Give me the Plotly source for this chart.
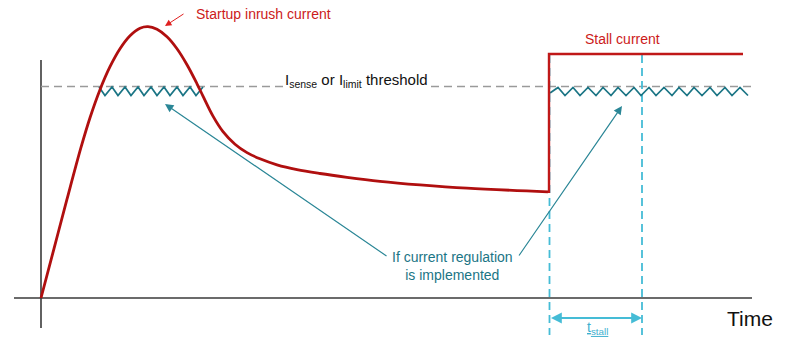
import plotly.graph_objects as go

# ---- data (time units, current units) ----
inrush_t = [0, 13, 26, 40, 49, 59, 69, 79, 89, 99, 107, 116, 126, 136, 146, 156, 162, 172,
            182, 194, 206, 219, 236, 256, 279, 306, 339, 379, 426, 507]
inrush_i = [0, 49.4, 98.8, 150.6, 180.3, 208.3, 231.3, 249.3, 262.3, 269.8, 271.4, 268.7, 261.2,
            249.2, 233.2, 214.2, 201.9, 181.9, 166.4, 153.8, 145.4, 139.2, 133.2, 128.4, 124.5,
            120.7, 116.7, 113.1, 109.8, 106.2]

stall_t = [507, 508, 508, 702]
stall_i = [106.2, 106.2, 244, 244]

threshold_t = [0, 711]
threshold_i = [211.5, 211.5]

ripple1_t = [58, 64, 71, 77, 84, 90, 97, 103, 110, 116, 123, 129, 136, 142, 149, 155, 162]
ripple1_i = [211, 202.5, 211, 202.5, 211, 202.5, 211, 202.5, 211, 202.5, 211, 202.5, 211, 202.5, 211, 202.5, 211]

ripple2_t = [509, 517, 524, 532, 539, 547, 555, 562, 570, 577, 585, 593, 600, 608,
             615, 623, 631, 638, 646, 653, 661, 669, 676, 684, 691, 699, 707]
ripple2_i = [205, 210.5, 202.5, 210.5, 202.5, 210.5, 202.5, 210.5, 202.5, 210.5, 202.5, 210.5, 202.5, 210.5,
             202.5, 210.5, 202.5, 210.5, 202.5, 210.5, 202.5, 210.5, 202.5, 210.5, 202.5, 210.5, 202.5]

tstall_start = 508.5
tstall_end = 601

FONT = "Liberation Sans, Arial, sans-serif"
RED = "#b00f0f"
TEAL = "#1b7585"
CYAN = "#45bcd6"

fig = go.Figure()

# axes
fig.add_trace(go.Scatter(x=[0, 0], y=[-30, 238], mode="lines",
                         line=dict(color="#3a3a3a", width=1.6), hoverinfo="skip"))
fig.add_trace(go.Scatter(x=[-27, 711], y=[0, 0], mode="lines",
                         line=dict(color="#3a3a3a", width=1.6), hoverinfo="skip"))

# threshold
fig.add_trace(go.Scatter(x=threshold_t, y=threshold_i, mode="lines",
                         line=dict(color="#9a9a9a", width=1.6, dash="8px,5px"), hoverinfo="skip"))

# t_stall dashed verticals
for xv in (tstall_start, tstall_end):
    fig.add_trace(go.Scatter(x=[xv, xv], y=[243, -37], mode="lines",
                             line=dict(color=CYAN, width=1.8, dash="8px,5px"), hoverinfo="skip"))

# ripples
fig.add_trace(go.Scatter(x=ripple1_t, y=ripple1_i, mode="lines",
                         line=dict(color=TEAL, width=1.7), hoverinfo="skip"))
fig.add_trace(go.Scatter(x=ripple2_t, y=ripple2_i, mode="lines",
                         line=dict(color=TEAL, width=1.7), hoverinfo="skip"))

# current curves
fig.add_trace(go.Scatter(x=inrush_t, y=inrush_i, mode="lines",
                         line=dict(color=RED, width=2.8, shape="spline", smoothing=1.0),
                         hoverinfo="skip"))
fig.add_trace(go.Scatter(x=stall_t, y=stall_i, mode="lines",
                         line=dict(color="#c01818", width=2.4), hoverinfo="skip"))

ann = []
# labels
ann.append(dict(x=222, y=284, text="Startup inrush current", showarrow=False,
                font=dict(family=FONT, size=14, color="#cc1a1a"), xanchor="center", yanchor="middle"))
ann.append(dict(x=124, y=272, ax=144, ay=285, axref="x", ayref="y", text="", showarrow=True,
                arrowhead=2, arrowsize=1.3, arrowwidth=1, arrowcolor="#e02020", standoff=0))
ann.append(dict(x=581, y=259, text="Stall current", showarrow=False,
                font=dict(family=FONT, size=14, color="#cc1a1a"), xanchor="center", yanchor="middle"))
ann.append(dict(x=315, y=218, text="I<sub>sense</sub> or I<sub>limit</sub> threshold", showarrow=False,
                font=dict(family=FONT, size=15, color="#111111"), xanchor="center", yanchor="middle",
                bgcolor="white", borderpad=0))
ann.append(dict(x=411, y=32, text="If current regulation<br>is implemented", showarrow=False,
                font=dict(family=FONT, size=14, color=TEAL), xanchor="center", yanchor="middle"))
# regulation arrows
ann.append(dict(x=124, y=194, ax=347, ay=41, axref="x", ayref="y", text="", showarrow=True,
                arrowhead=2, arrowsize=1.4, arrowwidth=1.2, arrowcolor="#2a8696", standoff=0))
ann.append(dict(x=581, y=192, ax=477, ay=41, axref="x", ayref="y", text="", showarrow=True,
                arrowhead=2, arrowsize=1.4, arrowwidth=1.2, arrowcolor="#2a8696", standoff=0))
# t_stall double arrow
ann.append(dict(x=tstall_end, y=-20, ax=tstall_start, ay=-20, axref="x", ayref="y", text="",
                showarrow=True, arrowhead=2, startarrowhead=2, arrowside="end+start",
                arrowsize=1.2, startarrowsize=1.2, arrowwidth=1.8, arrowcolor=CYAN,
                standoff=0, startstandoff=0))
ann.append(dict(x=556, y=-30, text="<u>t<sub>stall</sub></u>", showarrow=False,
                font=dict(family=FONT, size=14, color="#3eb0cf"), xanchor="center", yanchor="middle"))
ann.append(dict(x=709, y=-20, text="Time", showarrow=False,
                font=dict(family=FONT, size=21, color="#111111"), xanchor="center", yanchor="middle"))

fig.update_layout(
    width=800, height=343,
    margin=dict(l=0, r=0, t=0, b=0),
    paper_bgcolor="white", plot_bgcolor="white",
    showlegend=False,
    xaxis=dict(range=[-41, 759], visible=False, fixedrange=True),
    yaxis=dict(range=[-45, 298], visible=False, fixedrange=True),
    annotations=ann,
)

fig.write_html("out.html")
